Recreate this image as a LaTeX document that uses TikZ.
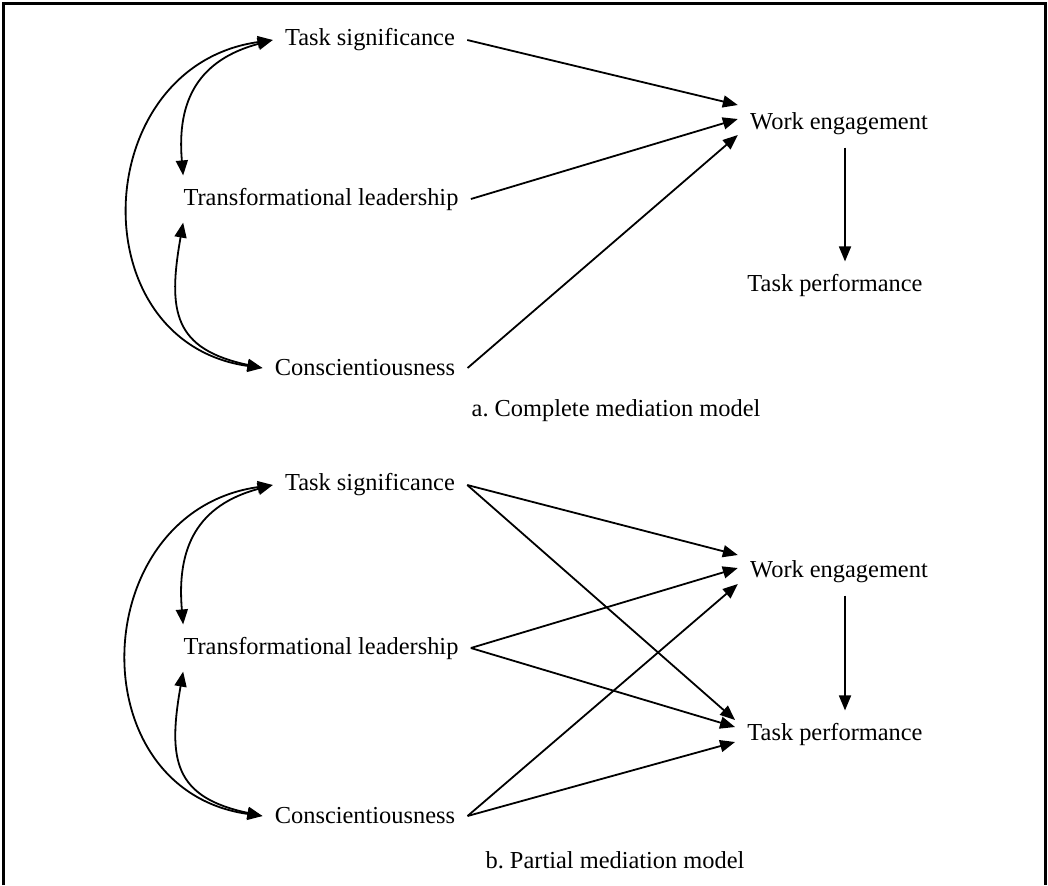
\documentclass[tikz,border=0pt]{standalone}
\usepackage{fontspec}
\setmainfont{Liberation Serif}
\usepackage{tikz}
\usetikzlibrary{arrows.meta}

\tikzset{
  var/.style={inner sep=6pt, font=\fontsize{12.2}{14}\selectfont},
  arr/.style={line width=0.9pt, -{Triangle[length=7.5pt,width=6pt]}},
  corr/.style={line width=0.9pt, {Triangle[length=7.5pt,width=6pt]}-{Triangle[length=7.5pt,width=6pt]}}
}

\begin{document}
\begin{tikzpicture}[x=0.5pt,y=0.5pt]
  \useasboundingbox (0,0) rectangle (1048,-885);
  \draw[line width=1.5pt] (3.5,-885) -- (3.5,-3.5) -- (1045,-3.5) -- (1045,-885);

% a. complete mediation
\node[var] (ts) at (370,-40) {Task significance};
\node[var] (tl) at (321,-199) {Transformational leadership};
\node[var] (cs) at (365,-368) {Conscientiousness};
\node[var] (we) at (839,-124) {Work engagement};
\node[var] (tp) at (835,-285) {Task performance};
\node[var] (capa) at (616,-411) {a.\ Complete mediation model};

\draw[arr] (ts.east) -- ([yshift=9.5pt]we.west);
\draw[arr] (tl.east) -- ([yshift=2.5pt]we.west);
\draw[arr] (cs.east) -- ([yshift=-5.5pt]we.west);
\draw[arr] ([xshift=3pt]we.south) -- ([xshift=3pt]we.south |- tp.north);

\draw[corr] (ts.west) to[out=188,in=172,looseness=1.45] (cs.west);
\draw[corr] (ts.west) to[out=195,in=95,looseness=1.2] ([xshift=6pt]tl.north west);
\draw[corr] ([xshift=6pt]tl.south west) to[out=-100,in=168,looseness=1.4] (cs.west);

% b. partial mediation
\node[var] (ts2) at (370,-485) {Task significance};
\node[var] (tl2) at (321,-648) {Transformational leadership};
\node[var] (cs2) at (365,-816) {Conscientiousness};
\node[var] (we2) at (839,-572) {Work engagement};
\node[var] (tp2) at (835,-734) {Task performance};
\node[var] (capb) at (615,-860) {b.\ Partial mediation model};

\draw[arr] (ts2.east) -- ([yshift=8.5pt]we2.west);
\draw[arr] (tl2.east) -- ([yshift=2pt]we2.west);
\draw[arr] (cs2.east) -- ([yshift=-6pt]we2.west);
\draw[arr] (ts2.east) -- ([yshift=7pt]tp2.west);
\draw[arr] (tl2.east) -- ([yshift=3.5pt]tp2.west);
\draw[arr] (cs2.east) -- ([yshift=-4pt]tp2.west);
\draw[arr] ([xshift=3pt]we2.south) -- ([xshift=3pt]we2.south |- tp2.north);

\draw[corr] (ts2.west) to[out=188,in=172,looseness=1.45] (cs2.west);
\draw[corr] (ts2.west) to[out=195,in=95,looseness=1.2] ([xshift=6pt]tl2.north west);
\draw[corr] ([xshift=6pt]tl2.south west) to[out=-100,in=168,looseness=1.4] (cs2.west);

\end{tikzpicture}
\end{document}
